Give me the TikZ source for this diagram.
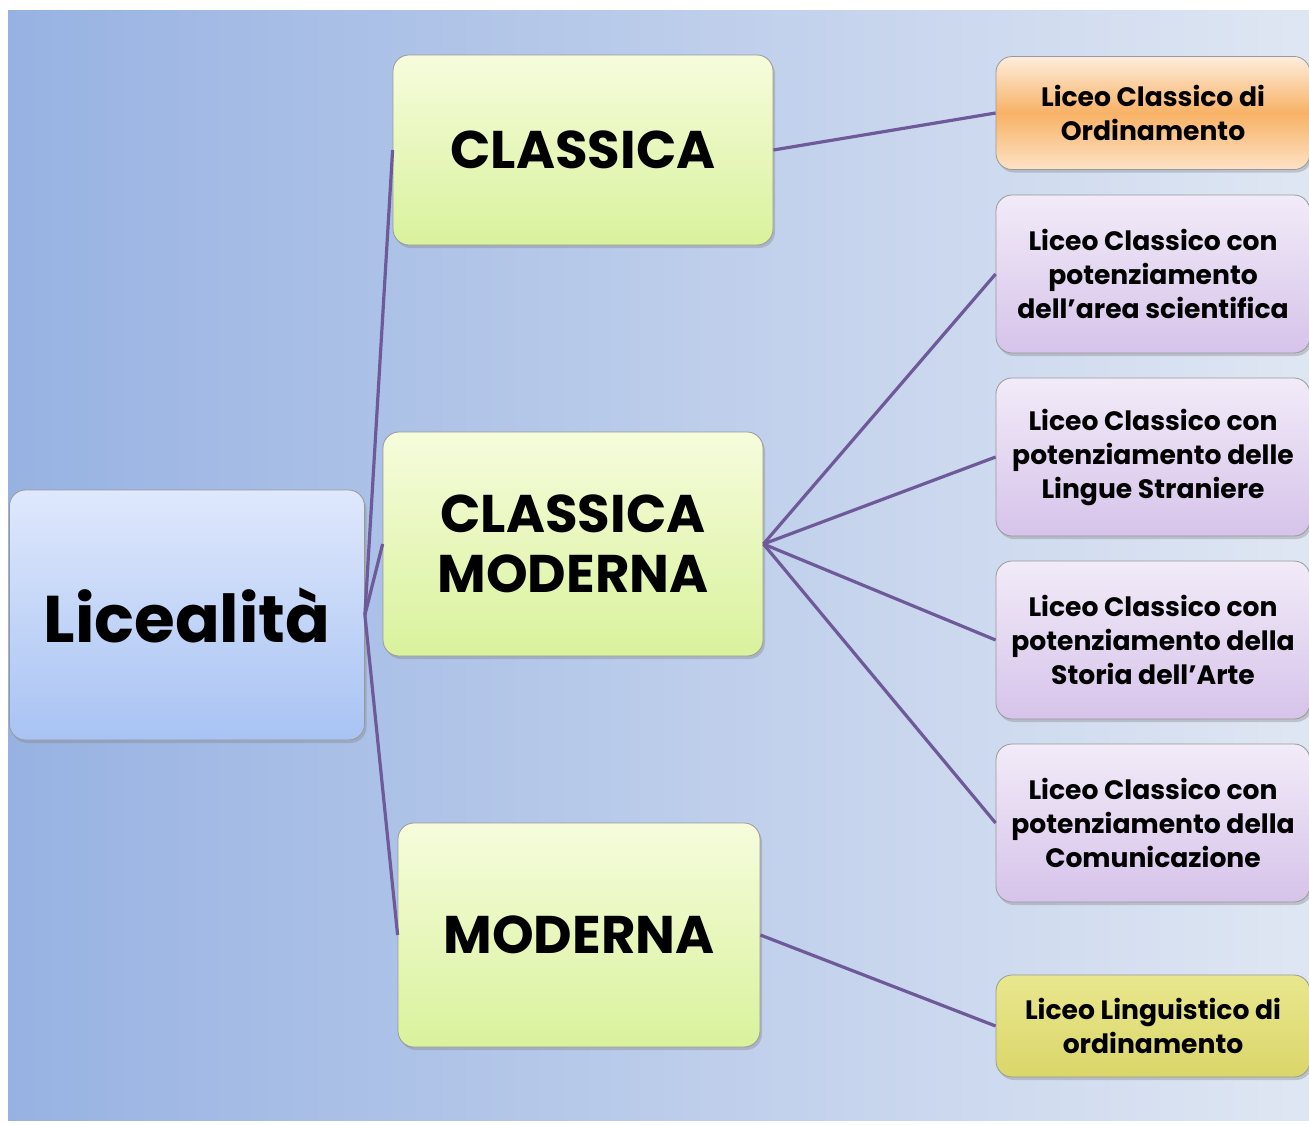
\documentclass[tikz,border=0pt]{standalone}
\usepackage{fontspec}
\setmainfont{Poppins}
\usetikzlibrary{positioning, shadows}

\definecolor{bgLeft}{HTML}{97B2E2}
\definecolor{bgRight}{HTML}{E0E7F3}
\definecolor{rootTop}{HTML}{DFE8FC}
\definecolor{rootBot}{HTML}{A8C3F3}
\definecolor{greenTop}{HTML}{F6FCDC}
\definecolor{greenBot}{HTML}{D9F29C}
\definecolor{orangeTop}{HTML}{FDEDDD}
\definecolor{orangeMid}{HTML}{F8B266}
\definecolor{orangeBot}{HTML}{FDE2C6}
\definecolor{lilacTop}{HTML}{F2EBF8}
\definecolor{lilacBot}{HTML}{D6C3EA}
\definecolor{yellowTop}{HTML}{E9E78E}
\definecolor{yellowBot}{HTML}{DAD66A}
\definecolor{linkPurple}{HTML}{6E5A98}

\begin{document}
\begin{tikzpicture}[
    x=0.5pt, y=-0.5pt,
    box/.style={draw=black!40, rounded corners=8pt, align=center, inner sep=0pt,
        drop shadow={opacity=0.35, shadow xshift=1pt, shadow yshift=-1.5pt}},
    rootbox/.style={box, top color=rootTop, bottom color=rootBot,
        minimum width=177.5pt, minimum height=125pt,
        font=\fontsize{33}{34}\selectfont\bfseries},
    mainbox/.style={box, top color=greenTop, bottom color=greenBot,
        minimum height=112pt, font=\fontsize{26.5}{30}\selectfont\bfseries},
    leafbox/.style={box, minimum width=157pt, minimum height=79pt,
        top color=lilacTop, bottom color=lilacBot,
        font=\fontsize{13.3}{17}\selectfont\bfseries},
    link/.style={draw=linkPurple, line width=1.6pt}
]

% Frame and background
\clip (0,0) rectangle (1309,1124);
\fill[white] (0,0) rectangle (1309,1124);
\shade[left color=bgLeft, right color=bgRight] (8,10) rectangle (1320,1120);

% Root
\node[rootbox] (root) at (187,615) {Licealità};

% Main branches
\node[mainbox, minimum width=190pt, minimum height=95pt] (classica) at (583,150) {CLASSICA};
\node[mainbox, minimum width=190pt] (clmod) at (573,544) {CLASSICA\\MODERNA};
\node[mainbox, minimum width=181pt] (moderna) at (579,935) {MODERNA};

% Leaves
\node[leafbox, minimum height=56.5pt, top color=orangeTop, bottom color=orangeBot,
    middle color=orangeMid] (ordin) at (1153,113) {Liceo Classico di\\Ordinamento};
\node[leafbox] (scient) at (1153,274) {Liceo Classico con\\potenziamento\\dell’area scientifica};
\node[leafbox] (lingue) at (1153,457) {Liceo Classico con\\potenziamento delle\\Lingue Straniere};
\node[leafbox] (arte) at (1153,640) {Liceo Classico con\\potenziamento della\\Storia dell’Arte};
\node[leafbox] (comun) at (1153,823) {Liceo Classico con\\potenziamento della\\Comunicazione};
\node[leafbox, minimum height=51pt, top color=yellowTop, bottom color=yellowBot]
    (lingu) at (1153,1026) {Liceo Linguistico di\\ordinamento};

% Connectors
\draw[link] (root.east) -- (classica.west);
\draw[link] (root.east) -- (clmod.west);
\draw[link] (root.east) -- (moderna.west);
\draw[link] (classica.east) -- (ordin.west);
\foreach \leaf in {scient, lingue, arte, comun}
    \draw[link] (clmod.east) -- (\leaf.west);
\draw[link] (moderna.east) -- (lingu.west);

\end{tikzpicture}
\end{document}
